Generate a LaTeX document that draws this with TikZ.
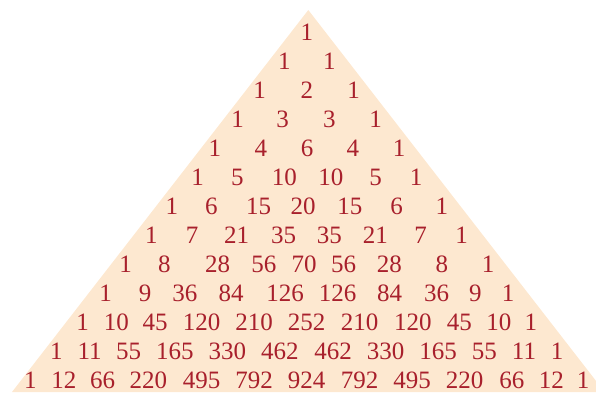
\documentclass[tikz,border=0pt]{standalone}
\usepackage{fontspec}
\setmainfont{Liberation Serif}
\definecolor{peach}{RGB}{253,232,208}
\definecolor{numred}{RGB}{168,32,44}
\tikzset{num/.style={text=numred, inner sep=0pt, anchor=center, font=\fontsize{25}{29}\selectfont}}
\newcommand\pasrow[2]{\foreach \x/\t [count=\c] in {#2} {\node[num] (r#1c\c) at (\x,{32.5+29*#1}) {\t};}}
\begin{document}
\begin{tikzpicture}[x=1pt,y=-1pt]
\useasboundingbox (0,0) rectangle (596,392);
\begin{scope}
\clip (0,0) rectangle (596,392);
\fill[peach] (308.3,10) -- (12,392) -- (604.6,392) -- cycle;
\end{scope}
\pasrow{0}{306.8/1}
\pasrow{1}{284.4/1, 329.3/1}
\pasrow{2}{259.7/1, 306.8/2, 353.6/1}
\pasrow{3}{237.6/1, 282.5/3, 329.3/3, 375.7/1}
\pasrow{4}{214.8/1, 260.8/4, 307.2/6, 352.9/4, 399.2/1}
\pasrow{5}{197.7/1, 237.3/5, 284.4/10, 330.8/10, 375.7/5, 416/1}
\pasrow{6}{171.9/1, 211.4/6, 258.6/15, 303/20, 349.8/15, 396.6/6, 441.8/1}
\pasrow{7}{151.3/1, 192/7, 236.5/21, 283.7/35, 329.3/35, 375.3/21, 420.5/7, 461.6/1}
\pasrow{8}{125.5/1, 164.3/8, 217.5/28, 263.9/56, 304.2/70, 343.7/56, 389.4/28, 441.8/8, 488.2/1}
\pasrow{9}{105.7/1, 145.2/9, 184.8/36, 231.2/84, 285.2/126, 337.6/126, 389.7/84, 436.5/36, 475.3/9, 508/1}
\pasrow{10}{82.5/1, 116.3/10, 155.1/45, 201.5/120, 254/210, 306.5/252, 359.7/210, 412.9/120, 459.3/45, 498.9/10, 530.8/1}
\pasrow{11}{56.3/1, 89.7/11, 128.5/55, 174.9/165, 227.4/330, 279.8/462, 333.1/462, 385.6/330, 438/165, 484.4/55, 524/11, 557/1}
\pasrow{12}{30.4/1, 63.9/12, 102.7/66, 148.3/220, 201.5/495, 254/792, 306.5/924, 359.7/792, 412.2/495, 464.6/220, 511.8/66, 551.3/12, 583/1}
\end{tikzpicture}
\end{document}
